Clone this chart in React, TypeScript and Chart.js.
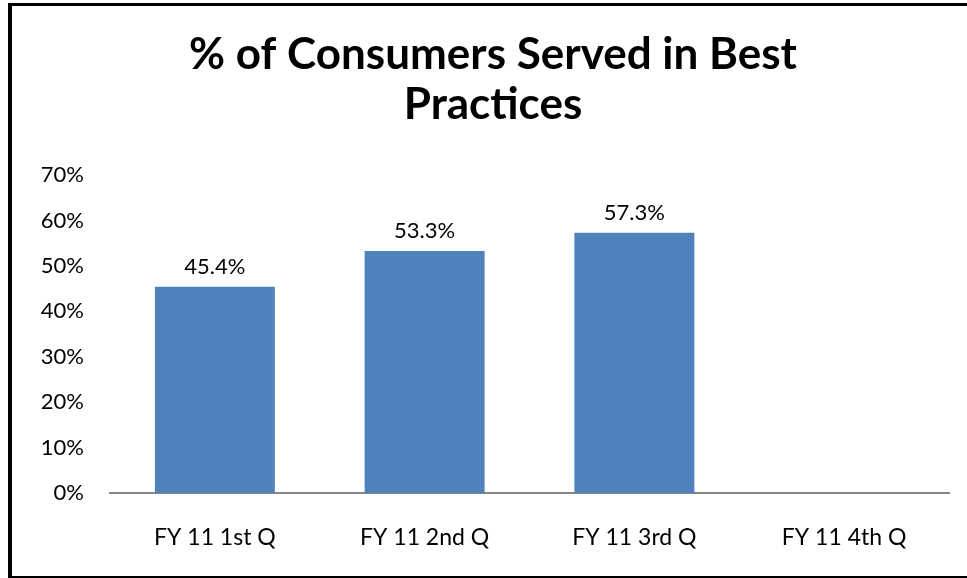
import React, { useEffect, useRef } from "react";
import { Chart, registerables } from "chart.js";

Chart.register(...registerables);

const TITLE_LINES = ["% of Consumers Served in Best", "Practices"];
const CATEGORIES = ["FY 11 1st Q", "FY 11 2nd Q", "FY 11 3rd Q", "FY 11 4th Q"];
const VALUES: (number | null)[] = [45.4, 53.3, 57.3, null];
const Y_MIN = 0;
const Y_MAX = 70;
const Y_STEP = 10;

const BAR_COLOR = "#4F81BD";
const FONT = "Lato, 'Open Sans', sans-serif";

const dataLabelPlugin = {
  id: "dataLabels",
  afterDatasetsDraw(chart: any) {
    const ctx = chart.ctx;
    const meta = chart.getDatasetMeta(0);
    ctx.save();
    ctx.font = `22px ${FONT}`;
    ctx.fillStyle = "#000";
    ctx.textAlign = "center";
    ctx.textBaseline = "middle";
    meta.data.forEach((el: any, i: number) => {
      const v = chart.data.datasets[0].data[i];
      if (v === null || v === undefined) return;
      ctx.fillText(`${(v as number).toFixed(1)}%`, el.x, el.y - 20);
    });
    ctx.restore();
  },
};

export default function App() {
  const ref = useRef<HTMLCanvasElement | null>(null);

  useEffect(() => {
    if (!ref.current) return;
    const chart = new Chart(ref.current, {
      type: "bar",
      data: {
        labels: CATEGORIES,
        datasets: [
          {
            data: VALUES,
            backgroundColor: BAR_COLOR,
            borderWidth: 0,
            categoryPercentage: 1,
            barPercentage: 0.572,
          },
        ],
      },
      options: {
        responsive: false,
        animation: false,
        devicePixelRatio: 1,
        layout: { padding: { top: 0, left: 37, right: 18, bottom: 28 } },
        plugins: {
          legend: { display: false },
          tooltip: { enabled: false },
          title: {
            display: true,
            text: TITLE_LINES,
            color: "#000",
            font: { family: FONT, size: 44, weight: "bold", lineHeight: 1.14 },
            padding: { top: 29.5, bottom: 45.2 },
          },
        },
        scales: {
          x: {
            afterFit: (s: any) => {
              s.height = 57;
            },
            grid: { display: false, drawTicks: false },
            border: { display: true, color: "#868686", width: 2 },
            ticks: {
              color: "#000",
              font: { family: FONT, size: 23 },
              padding: 31,
              maxRotation: 0,
            },
          },
          y: {
            min: Y_MIN,
            max: Y_MAX,
            afterFit: (s: any) => {
              s.width = 73;
            },
            grid: { display: false, drawTicks: false },
            border: { display: false },
            ticks: {
              stepSize: Y_STEP,
              color: "#000",
              font: { family: FONT, size: 22 },
              padding: 26,
              callback: (v: any) => `${v}%`,
            },
          },
        },
      },
      plugins: [dataLabelPlugin],
    });
    return () => chart.destroy();
  }, []);

  return (
    <div
      style={{
        position: "absolute",
        left: 0,
        top: 0,
        width: 967,
        height: 578,
        background: "#fff",
        overflow: "hidden",
      }}
    >
      <canvas ref={ref} width={967} height={578} style={{ display: "block", width: 967, height: 578 }} />
      <div style={{ position: "absolute", left: 8, top: 3, width: 4, height: 578, background: "#000" }} />
      <div style={{ position: "absolute", left: 8, top: 3, width: 959, height: 3, background: "#000" }} />
      <div style={{ position: "absolute", left: 8, top: 576, width: 959, height: 2, background: "#000" }} />
    </div>
  );
}
